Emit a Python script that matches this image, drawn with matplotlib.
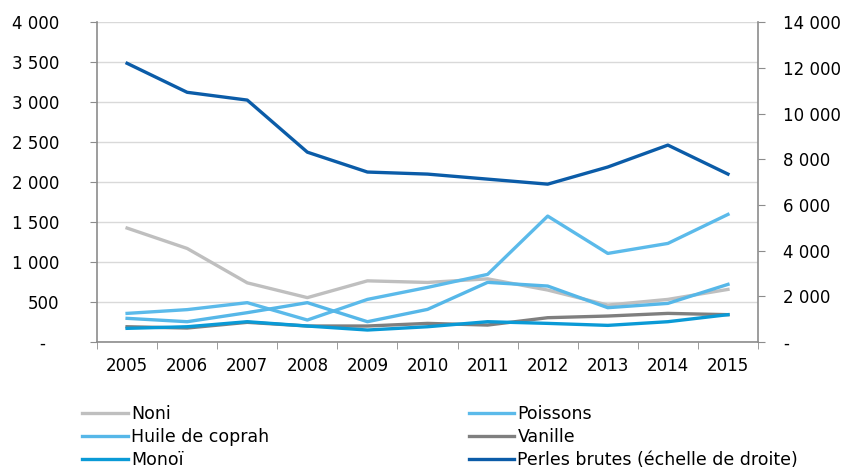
import numpy as np
import matplotlib
matplotlib.use('Agg')
import matplotlib.pyplot as plt
from matplotlib.ticker import FuncFormatter, FixedLocator

years = [2005, 2006, 2007, 2008, 2009, 2010, 2011, 2012, 2013, 2014, 2015]
noni = [1425, 1170, 740, 555, 765, 745, 790, 650, 462, 533, 658]
poissons = [358, 405, 492, 275, 533, 683, 846, 1575, 1108, 1233, 1596]
huile = [296, 254, 367, 492, 254, 408, 746, 700, 429, 483, 721]
vanille = [191, 175, 246, 200, 200, 233, 212, 304, 325, 358, 342]
monoi = [171, 191, 254, 200, 150, 191, 254, 233, 208, 254, 342]
perles = [12200, 10930, 10590, 8310, 7440, 7350, 7130, 6910, 7660, 8620, 7350]

names = ['Noni', 'Poissons', 'Huile de coprah', 'Vanille', 'Monoï',
         'Perles brutes (échelle de droite)']
colors = ['#BFBFBF', '#5BBAEA', '#56B7E8', '#7F7F7F', '#0A9AD6', '#0B5CA8']

plt.rcParams['font.family'] = ['DejaVu Sans']
axcol = '#8C8C8C'


def fmt(v, pos):
    # excel style: space as thousands separator, dash for zero
    if v == 0:
        return '-  \u2009'
    return '{:,.0f}'.format(v).replace(',', ' ')


fig = plt.figure(figsize=(8.46, 4.72), dpi=100)
ax = fig.add_axes([0.1147, 0.2754, 0.896 - 0.1147, 0.953 - 0.2754])
ax2 = ax.twinx()

lw = 2.4
handles = []
for vals, n, c in zip([noni, poissons, huile, vanille, monoi], names[:5], colors[:5]):
    h, = ax.plot(years, vals, color=c, lw=lw, label=n)
    handles.append(h)
h, = ax2.plot(years, perles, color=colors[5], lw=lw, label=names[5])
handles.append(h)

ax.set_xlim(2004.5, 2015.5)
ax.set_ylim(0, 4000)
ax2.set_ylim(0, 14000)
ax.set_yticks(np.arange(0, 4001, 500))
ax2.set_yticks(np.arange(0, 14001, 2000))
ax.yaxis.set_major_formatter(FuncFormatter(fmt))
ax2.yaxis.set_major_formatter(FuncFormatter(lambda v, p: '-' if v == 0 else fmt(v, p)))
ax.grid(axis='y', color='#D9D9D9', lw=1)
ax.set_axisbelow(True)

ax.set_xticks(years)
ax.set_xticklabels([str(y) for y in years])
ax.xaxis.set_minor_locator(FixedLocator(np.arange(2004.5, 2016, 1)))
ax.tick_params(axis='x', which='major', length=0, pad=11, labelsize=12)
ax.tick_params(axis='x', which='minor', length=5, color=axcol, direction='out')
ax.tick_params(axis='y', length=5, color=axcol, labelsize=12, pad=22)
ax2.tick_params(axis='y', length=5, color=axcol, labelsize=12, pad=13)

for a in (ax, ax2):
    for s in a.spines.values():
        s.set_visible(False)
ax.spines['left'].set_visible(True)
ax.spines['bottom'].set_visible(True)
ax2.spines['right'].set_visible(True)
for s in [ax.spines['left'], ax.spines['bottom'], ax2.spines['right']]:
    s.set_color(axcol)
    s.set_linewidth(1.2)

# legend is filled column by column, so reorder to read row-wise
order = [0, 2, 4, 1, 3, 5]
leg = fig.legend([handles[i] for i in order], [names[i] for i in order],
                 loc='upper left', bbox_to_anchor=(0.079, 0.175), ncol=2,
                 frameon=False, handlelength=2.6, handletextpad=0.2,
                 columnspacing=11.5, labelspacing=0.3,
                 prop={'size': 12.5})

plt.savefig('out.png', dpi=100)
